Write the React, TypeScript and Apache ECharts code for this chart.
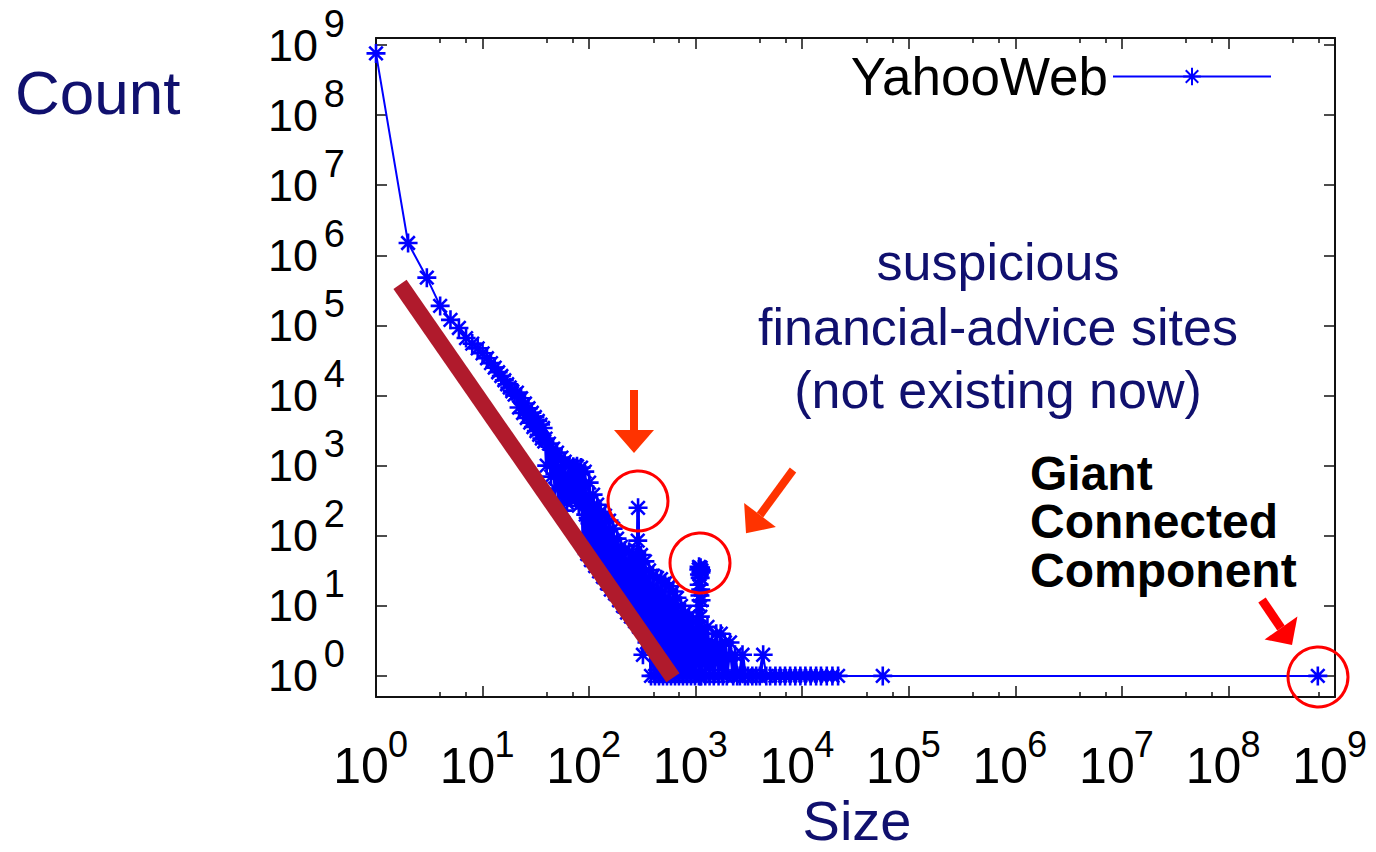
import React, { useEffect, useRef } from 'react';
import * as echarts from 'echarts';

const FONT = '"Liberation Sans", Arial, Helvetica, sans-serif';
const NAVY = '#10106E';

// [component size, number of components] (YahooWeb)
const headPoints: [number, number][] = [
  [1, 760000000], [2, 1500000], [3, 480000], [4, 190000], [5, 120000], [6, 92000], [7, 66000],
  [8, 55000], [9, 47000], [10, 40000], [11, 34000], [12, 29000], [13, 25000], [14, 21500],
  [15, 19000], [16, 16500], [17, 14500], [18, 13000], [19, 11500], [20, 10300],
];

const bandPoints: [number, number][] = [
  [21, 11000], [22, 6740], [23, 9150], [24, 5630], [25, 7700], [26, 4780], [27, 6580], [28, 4100],
  [29, 5670], [30, 3550], [31, 4940], [32, 3110], [33, 4340], [34, 2750], [35, 3850], [36, 2440],
  [37, 3440], [38, 2210],
];

const blobPoints: [number, number][] = [
  [39, 2430], [40, 1000], [42, 2062], [44, 697], [46, 1750], [48, 469], [50, 1534], [52, 296],
  [55, 1301], [57, 228], [58, 500], [59, 1141], [60, 580], [62, 296], [63, 540], [65, 1000],
  [66, 610], [68, 373], [70, 600], [71, 967], [72, 580], [74, 349], [75, 585], [77, 980],
  [79, 510], [80, 268], [82, 500], [84, 936], [86, 300], [88, 100], [89, 300], [91, 821],
  [93, 200], [96, 55], [98, 180], [100, 572], [102, 150], [104, 45], [106, 130], [109, 385],
  [111, 115], [114, 37], [116, 100], [119, 277], [121, 90], [124, 31], [126, 80], [129, 220],
  [132, 75], [135, 26], [138, 68], [141, 193], [144, 62], [147, 21], [150, 55], [154, 164],
  [157, 50], [160, 17], [164, 45], [168, 126], [171, 40], [175, 15], [179, 36], [183, 91],
  [187, 31], [191, 12], [195, 28], [199, 70], [203, 25], [208, 10], [212, 23], [217, 61],
  [222, 21], [227, 8], [232, 20], [237, 59], [242, 19], [247, 7], [252, 18], [258, 55],
  [264, 17], [270, 6], [276, 16], [281, 50], [286, 85], [288, 250], [294, 5], [300, 15],
  [307, 53], [313, 11], [320, 2], [327, 9], [334, 43], [342, 10], [349, 3], [357, 9],
  [365, 32], [373, 6], [381, 1], [389, 5], [398, 27], [406, 5], [415, 1], [424, 5],
  [434, 25], [443, 5], [453, 1], [462, 5], [473, 24], [483, 5], [494, 1], [504, 4],
  [515, 21], [526, 4], [538, 1], [550, 4], [562, 19], [574, 4], [587, 1], [599, 4],
  [613, 16], [626, 4], [640, 1], [653, 3], [668, 13], [682, 3], [697, 1], [712, 3],
  [728, 10], [744, 3], [760, 1], [777, 3], [794, 8], [811, 3], [829, 1], [847, 3],
  [866, 7], [884, 3], [904, 1], [923, 2], [944, 6], [964, 2], [985, 1],
];

// the suspicious financial-advice sites (~1100 nodes each)
const columnPoints: [number, number][] = [
  [1070, 33], [1073, 1], [1076, 36], [1079, 20], [1082, 5], [1085, 28], [1088, 10], [1091, 2],
  [1094, 34], [1097, 14], [1100, 3], [1103, 25], [1106, 7], [1109, 1], [1112, 35], [1115, 17],
  [1118, 4], [1121, 30], [1124, 12], [1127, 1], [1130, 32], [1133, 2],
];

const tailPoints: [number, number][] = [
  [1180, 4], [1230, 1], [1290, 5], [1350, 1], [1420, 3], [1480, 1], [1560, 4], [1640, 1],
  [1720, 4], [1800, 1], [1880, 3], [1960, 1], [2100, 3], [2250, 1], [2340, 2], [2450, 1],
  [2600, 1], [2750, 2], [2900, 1], [3100, 1], [3400, 1], [3700, 1], [4000, 1], [4300, 2],
  [4600, 1], [5000, 1], [5600, 1], [6200, 1], [6900, 1], [7700, 1], [8600, 1], [9600, 1],
  [10700, 1], [12000, 1], [13500, 1], [15000, 1], [17000, 1], [19200, 1], [21700, 1],
  [57000, 1], [690000000, 1],
];

// power-law guide (dark red bar)
const guidePoints: [number, number][] = [[1.68, 385000], [612, 0.94]];

export default function App() {
  const ref = useRef<HTMLDivElement>(null);
  useEffect(() => {
    const chart = echarts.init(ref.current!, null, { renderer: 'svg' });
    const data = [...headPoints, ...bandPoints, ...blobPoints, ...columnPoints, ...tailPoints];
    const dense = [...blobPoints, ...columnPoints, ...tailPoints.slice(0, 24)];
    const star = 'path://M9 0L9 18M0 9L18 9M2.6 2.6L15.4 15.4M2.6 15.4L15.4 2.6';
    const isPow = (v: number) => {
      const l = Math.log10(v);
      return Math.abs(l - Math.round(l)) < 0.01;
    };
    const baseFmt = (v: number) => (isPow(v) ? '10' : '');
    const expFmt = (v: number) => (isPow(v) ? String(Math.round(Math.log10(v))) : '');
    const axisLine = { show: true, onZero: false, lineStyle: { color: '#111', width: 2 } };
    const tick = { show: true, inside: true, length: 11, lineStyle: { color: '#111', width: 1.5 } };
    const minor = { show: true, splitNumber: 3, length: 5, lineStyle: { color: '#111', width: 1.5 } };
    const noLine = { show: false };
    const noTick = { show: false };
    const xBase = { type: 'log', logBase: 10, min: 1, max: 1e9, splitNumber: 10, splitLine: { show: false } };
    const yBase = { type: 'log', logBase: 10, min: 0.5, max: 1.26e9, splitNumber: 10, splitLine: { show: false } };
    const red = '#FF0000';
    const orange = '#FF3300';
    const txt = (text: string, x: number, y: number, size: number, color: string, align: string, weight = 'normal') => ({
      type: 'text', x, y, z: 100,
      style: {
        text, fill: color, fontSize: size, fontFamily: FONT, fontWeight: weight,
        align, verticalAlign: 'middle', textAlign: align, textVerticalAlign: 'middle',
      },
    });
    chart.setOption({
      animation: false,
      backgroundColor: '#fff',
      grid: { left: 376, right: 41, top: 38, bottom: 155, containLabel: false, outerBoundsMode: 'none' },
      legend: {
        data: ['YahooWeb'], right: 104, top: 50, padding: 0, align: 'right',
        itemWidth: 158, itemHeight: 22,
        textStyle: { fontSize: 53, fontFamily: FONT, color: '#000' },
      },
      xAxis: [
        {
          ...xBase, position: 'bottom', axisLine, axisTick: tick, minorTick: minor,
          axisLabel: {
            formatter: baseFmt, fontSize: 50, lineHeight: 50, fontFamily: FONT, color: '#000',
            margin: 44, padding: [0, 30, 0, 0], showMinLabel: true, showMaxLabel: true,
          },
        },
        {
          ...xBase, position: 'top', axisLine, axisTick: tick, minorTick: minor, axisLabel: { show: false },
        },
        {
          ...xBase, position: 'bottom', axisLine: noLine, axisTick: noTick,
          axisLabel: {
            formatter: expFmt, fontSize: 36, lineHeight: 36, fontFamily: FONT, color: '#000',
            margin: 29, padding: [0, 0, 0, 44], showMinLabel: true, showMaxLabel: true,
          },
        },
      ],
      yAxis: [
        {
          ...yBase, position: 'left', axisLine, axisTick: tick,
          axisLabel: {
            formatter: baseFmt, fontSize: 45, lineHeight: 45, fontFamily: FONT, color: '#000',
            margin: 58, showMinLabel: false, showMaxLabel: false,
          },
        },
        {
          ...yBase, position: 'right', axisLine, axisTick: tick, axisLabel: { show: false },
        },
        {
          ...yBase, position: 'left', axisLine: noLine, axisTick: noTick,
          axisLabel: {
            formatter: expFmt, fontSize: 38, lineHeight: 43, fontFamily: FONT, color: '#000',
            margin: 31, verticalAlign: 'bottom', showMinLabel: false, showMaxLabel: false,
          },
        },
      ],
      series: [
        {
          name: 'YahooWeb', type: 'line', data, xAxisIndex: 0, yAxisIndex: 0,
          symbol: star, symbolSize: 19, showSymbol: true, showAllSymbol: true,
          lineStyle: { color: '#0000FF', width: 2 },
          itemStyle: { color: '#0000FF', borderColor: '#0000FF', borderWidth: 2.6 },
          z: 2, silent: true,
        },
        {
          // same points again, drawn with a heavier stroke where the markers pile up
          name: 'YahooWeb-dense', type: 'line', data: dense, xAxisIndex: 0, yAxisIndex: 0,
          symbol: 'none', lineStyle: { color: '#0000FF', width: 3.6, join: 'round' },
          z: 2, silent: true,
        },
        {
          name: 'guide', type: 'line', data: guidePoints, xAxisIndex: 0, yAxisIndex: 0,
          symbol: 'none', lineStyle: { color: '#B01A2C', width: 16, cap: 'butt' }, z: 3, silent: true,
        },
      ],
      graphic: [
        { type: 'circle', z: 100, shape: { cx: 638, cy: 501, r: 30 }, style: { fill: 'none', stroke: red, lineWidth: 3 } },
        { type: 'circle', z: 100, shape: { cx: 700, cy: 563, r: 30 }, style: { fill: 'none', stroke: red, lineWidth: 3 } },
        { type: 'circle', z: 100, shape: { cx: 1318, cy: 677, r: 30 }, style: { fill: 'none', stroke: red, lineWidth: 3 } },
        { type: 'rect', z: 100, shape: { x: 630, y: 390, width: 8, height: 41 }, style: { fill: orange } },
        { type: 'polygon', z: 100, shape: { points: [[614, 430], [654, 430], [634, 453]] }, style: { fill: orange } },
        { type: 'polygon', z: 100, shape: { points: [[796.2, 472.4], [789.8, 467.6], [756.8, 512.6], [763.2, 517.4]] }, style: { fill: orange } },
        { type: 'polygon', z: 100, shape: { points: [[775.9, 527.1], [744.1, 502.9], [746, 533.3]] }, style: { fill: orange } },
        { type: 'polygon', z: 100, shape: { points: [[1265.7, 597.4], [1258.3, 602.6], [1277.3, 630.6], [1284.7, 625.4]] }, style: { fill: red } },
        { type: 'polygon', z: 100, shape: { points: [[1297.4, 616.6], [1264.6, 639.4], [1292, 645]] }, style: { fill: red } },
        txt('Count', 15, 92, 62, NAVY, 'left'),
        txt('Size', 857, 820, 56, NAVY, 'center'),
        txt('suspicious', 998, 262, 52, NAVY, 'center'),
        txt('financial-advice sites', 998, 327, 52, NAVY, 'center'),
        txt('(not existing now)', 998, 390, 52, NAVY, 'center'),
        txt('Giant', 1030, 473, 48, '#000', 'left', 'bold'),
        txt('Connected', 1030, 521, 48, '#000', 'left', 'bold'),
        txt('Component', 1030, 570, 48, '#000', 'left', 'bold'),
      ],
    });
    return () => chart.dispose();
  }, []);
  return (
    <div
      ref={ref}
      style={{ position: 'absolute', left: 0, top: 0, width: 1376, height: 852, background: '#fff' }}
    />
  );
}
